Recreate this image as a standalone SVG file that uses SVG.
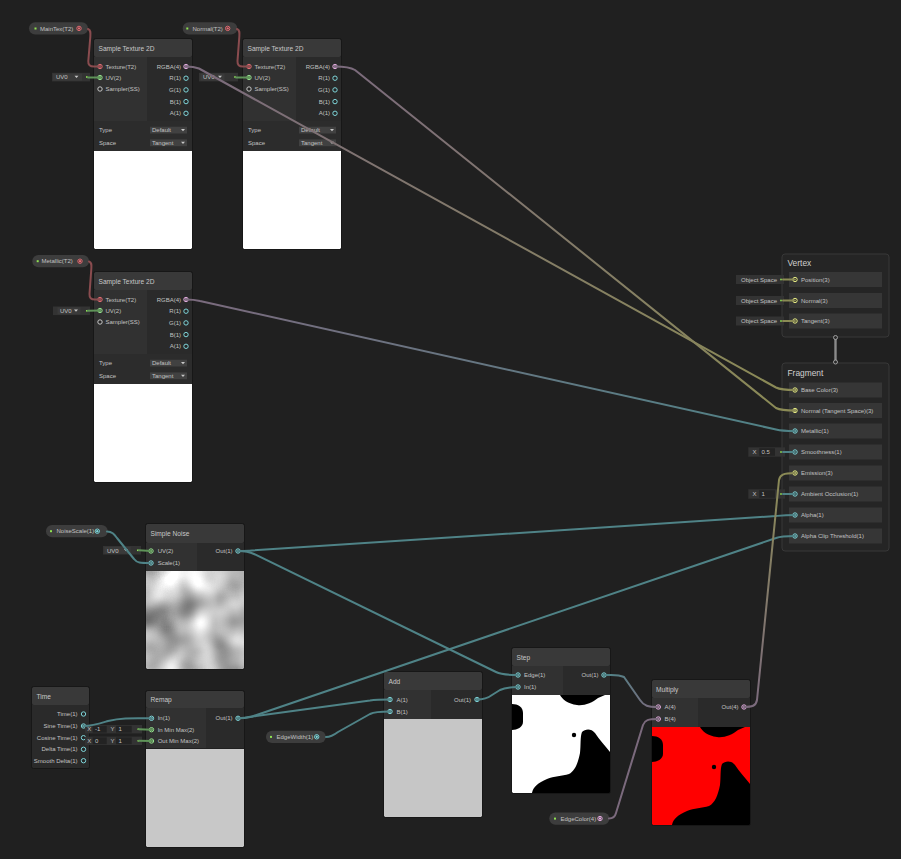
<svg xmlns="http://www.w3.org/2000/svg" xmlns:xlink="http://www.w3.org/1999/xlink" width="901" height="859" viewBox="0 0 901 859">
<style>
  text { font-family: "Liberation Sans", Arial, sans-serif; font-size: 6px; fill: #c2c2c2; }
  .title { font-size: 6.6px; fill: #c8c8c8; }
  .big { font-size: 8.4px; fill: #d0d0d0; }
  .r { text-anchor: end; }
  .hdr { fill: #393939; }
  .in { fill: #313131; }
  .out { fill: #2a2a2a; }
  .set { fill: #2c2c2c; }
  .frame { fill: none; stroke: #171717; stroke-width: 1; }
  .white { fill: #ffffff; }
  .grey { fill: #c8c8c8; }
  .dd { fill: #414141; }
  .ddarrow { fill: #c8c8c8; }
  .pill { fill: #3d3d3d; }
  .fld { fill: #333333; }
  .fldv { fill: #232323; }
  .uvin { fill: #3a3a3a; }
  .gdot { fill: #8fe253; }
  .c-t2 { color: #e26d74; }
  .c-v1 { color: #7fd6da; }
  .c-v2 { color: #96e28e; }
  .c-v3 { color: #e8ee86; }
  .c-v4 { color: #e4aee0; }
  .c-ss { color: #c8c8c8; }
  .edge { fill: none; stroke-width: 2; stroke-linejoin: round; stroke-linecap: round; }
  .e-t2 { stroke: #8a4c4f; }
  .e-v1 { stroke: #4f8387; }
  .e-v2 { stroke: #5f9459; }
  .e-v3 { stroke: #8b8b55; }
  .e-v4 { stroke: #7b6a7d; }
  .ctn { fill: #252525; stroke: #383838; stroke-width: 1; }
  .slot { fill: #363636; }
</style>
<defs>
  <g id="port-on"><circle r="2.2" fill="#262626" stroke="currentColor" stroke-width="1"/><circle r="1.2" fill="currentColor"/></g>
  <g id="port-off"><circle r="2.2" fill="#262626" stroke="currentColor" stroke-width="1"/></g>
  <path id="dd-arrow" d="M-2,-1 L2,-1 L0,1.2 Z"/>
  <!-- thresholded noise pattern used by the Step / Multiply previews -->
  <g id="cut-shape">
    <path d="M48,0 C50,4 56,9 65,10 C72,11 80,8 86,3 L93,0 Z"/>
    <path d="M0,9 C6,9 11,12 11,18 L11,27 C11,32 5,35 0,35 Z"/>
    <circle cx="62" cy="40" r="2.2"/>
    <path d="M70,37 C73,34 79,33 83,38 C87,44 93,51 98,57 L98,98 L20,98 C21,92 26,88 35,84 C42,81 50,81 57,79 C63,76 66,68 68,58 C69,50 68,42 70,37 Z"/>
  </g>
  <filter id="noise" filterUnits="userSpaceOnUse" x="0" y="47" width="98" height="98" color-interpolation-filters="sRGB">
    <feTurbulence type="fractalNoise" baseFrequency="0.028" numOctaves="2" seed="11"/>
    <feGaussianBlur stdDeviation="1.8"/>
    <feColorMatrix type="matrix" values="1.05 0 0 0 0.2  1.05 0 0 0 0.2  1.05 0 0 0 0.2  0 0 0 0 1"/>
  </filter>
  <linearGradient id="g-base" gradientUnits="userSpaceOnUse" x1="186" y1="66" x2="795" y2="390">
    <stop offset="0" stop-color="#7b6a7d"/><stop offset="1" stop-color="#8b8b55"/>
  </linearGradient>
  <linearGradient id="g-normal" gradientUnits="userSpaceOnUse" x1="335" y1="66" x2="795" y2="410">
    <stop offset="0" stop-color="#7b6a7d"/><stop offset="1" stop-color="#8b8b55"/>
  </linearGradient>
  <linearGradient id="g-metal" gradientUnits="userSpaceOnUse" x1="187" y1="299" x2="795" y2="431">
    <stop offset="0" stop-color="#7b6a7d"/><stop offset="1" stop-color="#4f8387"/>
  </linearGradient>
  <linearGradient id="g-mula" gradientUnits="userSpaceOnUse" x1="604" y1="675" x2="658" y2="707">
    <stop offset="0" stop-color="#4f8387"/><stop offset="1" stop-color="#7b6a7d"/>
  </linearGradient>
  <linearGradient id="g-emis" gradientUnits="userSpaceOnUse" x1="744" y1="707" x2="795" y2="473">
    <stop offset="0" stop-color="#7b6a7d"/><stop offset="1" stop-color="#8b8b55"/>
  </linearGradient>
</defs>

<rect width="901" height="859" fill="#202020"/>

<!-- property nodes -->
<g id="prop-maintex">
  <rect class="pill" x="29" y="22.3" width="59" height="12.3" rx="6.1"/>
  <rect class="gdot" x="34.5" y="27.5" width="2" height="2"/>
  <text x="40" y="30.6">MainTex(T2)</text>
  <use href="#port-on" x="79" y="28.4" class="c-t2"/>
</g>
<g id="prop-normal">
  <rect class="pill" x="182.7" y="22.3" width="54.6" height="12.3" rx="6.1"/>
  <rect class="gdot" x="186.3" y="27.5" width="2" height="2"/>
  <text x="192.5" y="30.6">Normal(T2)</text>
  <use href="#port-on" x="227.7" y="28.4" class="c-t2"/>
</g>
<g id="prop-metallic">
  <rect class="pill" x="32.3" y="255" width="56.7" height="12.3" rx="6.1"/>
  <rect class="gdot" x="36.7" y="260.2" width="2" height="2"/>
  <text x="41.5" y="263.3">Metallic(T2)</text>
  <use href="#port-on" x="80" y="261.2" class="c-t2"/>
</g>
<g id="prop-noisescale">
  <rect class="pill" x="46" y="525" width="61.7" height="12.3" rx="6.1"/>
  <rect class="gdot" x="50" y="530.2" width="2" height="2"/>
  <text x="56.5" y="533.3">NoiseScale(1)</text>
  <use href="#port-on" x="97.3" y="531.2" class="c-v1"/>
</g>
<g id="prop-edgewidth">
  <rect class="pill" x="266" y="730.7" width="59.7" height="12.3" rx="6.1"/>
  <rect class="gdot" x="270" y="735.9" width="2" height="2"/>
  <text x="276.5" y="739">EdgeWidth(1)</text>
  <use href="#port-on" x="316.7" y="736.8" class="c-v1"/>
</g>
<g id="prop-edgecolor">
  <rect class="pill" x="549.3" y="812.4" width="60" height="12.3" rx="6.1"/>
  <rect class="gdot" x="554" y="817.6" width="2" height="2"/>
  <text x="560.5" y="820.7">EdgeColor(4)</text>
  <use href="#port-on" x="600" y="818.5" class="c-v4"/>
</g>

<!-- inline default-value fields -->
<g id="uv-fields">
  <rect class="fld" x="52" y="72.8" width="38" height="8.6"/>
  <rect class="uvin" x="53" y="73.6" width="29" height="7"/>
  <text x="56" y="79.3">UV0</text><use href="#dd-arrow" x="76.5" y="76.8" class="ddarrow"/>
  <rect class="gdot" x="86" y="76.2" width="1.6" height="1.6"/>

  <rect class="fld" x="199" y="72.8" width="39" height="8.6"/>
  <rect class="uvin" x="200.5" y="73.6" width="24" height="7"/>
  <text x="203" y="79.3">UV0</text><use href="#dd-arrow" x="220" y="76.8" class="ddarrow"/>
  <rect class="gdot" x="234.2" y="76.2" width="1.6" height="1.6"/>

  <rect class="fld" x="53" y="306.5" width="37" height="8.6"/>
  <rect class="uvin" x="57.5" y="307.3" width="23" height="7"/>
  <text x="60" y="313">UV0</text><use href="#dd-arrow" x="76" y="310.5" class="ddarrow"/>
  <rect class="gdot" x="86" y="310" width="1.6" height="1.6"/>

  <rect class="fld" x="103" y="546" width="38" height="8.6"/>
  <rect class="uvin" x="104.3" y="546.8" width="26.4" height="7"/>
  <text x="107" y="552.5">UV0</text><use href="#dd-arrow" x="126" y="550" class="ddarrow"/>
  <rect class="gdot" x="137" y="549.5" width="1.6" height="1.6"/>
</g>

<!-- Sample Texture 2D (MainTex) -->
<g id="sample-tex-main" transform="translate(94,39)">
  <rect class="hdr" width="98" height="18" rx="2"/>
  <text class="title" x="4.5" y="11.6">Sample Texture 2D</text>
  <rect class="in" y="18" width="53" height="64"/>
  <rect class="out" x="53" y="18" width="45" height="64"/>
  <rect class="set" y="82" width="98" height="30"/>
  <rect class="white" y="112" width="98" height="98"/>
  <rect class="frame" x="-0.5" y="-0.5" width="99" height="211" rx="2"/>
  <use href="#port-on" x="6" y="27.5" class="c-t2"/><text x="11.5" y="29.6">Texture(T2)</text>
  <use href="#port-on" x="6" y="38.5" class="c-v2"/><text x="11.5" y="40.6">UV(2)</text>
  <use href="#port-off" x="6" y="50" class="c-ss"/><text x="11.5" y="52.1">Sampler(SS)</text>
  <use href="#port-on" x="92" y="27.5" class="c-v4"/><text class="r" x="87" y="29.6">RGBA(4)</text>
  <use href="#port-off" x="92" y="39.2" class="c-v1"/><text class="r" x="87" y="41.3">R(1)</text>
  <use href="#port-off" x="92" y="50.9" class="c-v1"/><text class="r" x="87" y="53">G(1)</text>
  <use href="#port-off" x="92" y="62.6" class="c-v1"/><text class="r" x="87" y="64.7">B(1)</text>
  <use href="#port-off" x="92" y="74.3" class="c-v1"/><text class="r" x="87" y="76.4">A(1)</text>
  <text x="5" y="93.1">Type</text>
  <rect class="dd" x="56" y="87.7" width="37" height="6.8"/><text x="58" y="93.1">Default</text><use href="#dd-arrow" x="89" y="91" class="ddarrow"/>
  <text x="5" y="105.9">Space</text>
  <rect class="dd" x="56" y="100.4" width="37" height="6.8"/><text x="58" y="105.9">Tangent</text><use href="#dd-arrow" x="89" y="103.7" class="ddarrow"/>
</g>

<!-- Sample Texture 2D (Normal) -->
<g id="sample-tex-normal" transform="translate(243,39)">
  <rect class="hdr" width="98" height="18" rx="2"/>
  <text class="title" x="4.5" y="11.6">Sample Texture 2D</text>
  <rect class="in" y="18" width="53" height="64"/>
  <rect class="out" x="53" y="18" width="45" height="64"/>
  <rect class="set" y="82" width="98" height="30"/>
  <rect class="white" y="112" width="98" height="98"/>
  <rect class="frame" x="-0.5" y="-0.5" width="99" height="211" rx="2"/>
  <use href="#port-on" x="6" y="27.5" class="c-t2"/><text x="11.5" y="29.6">Texture(T2)</text>
  <use href="#port-on" x="6" y="38.5" class="c-v2"/><text x="11.5" y="40.6">UV(2)</text>
  <use href="#port-off" x="6" y="50" class="c-ss"/><text x="11.5" y="52.1">Sampler(SS)</text>
  <use href="#port-on" x="92" y="27.5" class="c-v4"/><text class="r" x="87" y="29.6">RGBA(4)</text>
  <use href="#port-off" x="92" y="39.2" class="c-v1"/><text class="r" x="87" y="41.3">R(1)</text>
  <use href="#port-off" x="92" y="50.9" class="c-v1"/><text class="r" x="87" y="53">G(1)</text>
  <use href="#port-off" x="92" y="62.6" class="c-v1"/><text class="r" x="87" y="64.7">B(1)</text>
  <use href="#port-off" x="92" y="74.3" class="c-v1"/><text class="r" x="87" y="76.4">A(1)</text>
  <text x="5" y="93.1">Type</text>
  <rect class="dd" x="56" y="87.7" width="37" height="6.8"/><text x="58" y="93.1">Default</text><use href="#dd-arrow" x="89" y="91" class="ddarrow"/>
  <text x="5" y="105.9">Space</text>
  <rect class="dd" x="56" y="100.4" width="37" height="6.8"/><text x="58" y="105.9">Tangent</text><use href="#dd-arrow" x="89" y="103.7" class="ddarrow"/>
</g>

<!-- Sample Texture 2D (Metallic) -->
<g id="sample-tex-metallic" transform="translate(94,272)">
  <rect class="hdr" width="98" height="18" rx="2"/>
  <text class="title" x="4.5" y="11.6">Sample Texture 2D</text>
  <rect class="in" y="18" width="53" height="64"/>
  <rect class="out" x="53" y="18" width="45" height="64"/>
  <rect class="set" y="82" width="98" height="30"/>
  <rect class="white" y="112" width="98" height="98"/>
  <rect class="frame" x="-0.5" y="-0.5" width="99" height="211" rx="2"/>
  <use href="#port-on" x="6" y="27.5" class="c-t2"/><text x="11.5" y="29.6">Texture(T2)</text>
  <use href="#port-on" x="6" y="38.5" class="c-v2"/><text x="11.5" y="40.6">UV(2)</text>
  <use href="#port-off" x="6" y="50" class="c-ss"/><text x="11.5" y="52.1">Sampler(SS)</text>
  <use href="#port-on" x="92" y="27.5" class="c-v4"/><text class="r" x="87" y="29.6">RGBA(4)</text>
  <use href="#port-off" x="92" y="39.2" class="c-v1"/><text class="r" x="87" y="41.3">R(1)</text>
  <use href="#port-off" x="92" y="50.9" class="c-v1"/><text class="r" x="87" y="53">G(1)</text>
  <use href="#port-off" x="92" y="62.6" class="c-v1"/><text class="r" x="87" y="64.7">B(1)</text>
  <use href="#port-off" x="92" y="74.3" class="c-v1"/><text class="r" x="87" y="76.4">A(1)</text>
  <text x="5" y="93.1">Type</text>
  <rect class="dd" x="56" y="87.7" width="37" height="6.8"/><text x="58" y="93.1">Default</text><use href="#dd-arrow" x="89" y="91" class="ddarrow"/>
  <text x="5" y="105.9">Space</text>
  <rect class="dd" x="56" y="100.4" width="37" height="6.8"/><text x="58" y="105.9">Tangent</text><use href="#dd-arrow" x="89" y="103.7" class="ddarrow"/>
</g>

<!-- Simple Noise -->
<g id="simple-noise" transform="translate(146,524)">
  <rect class="hdr" width="98" height="19" rx="2"/>
  <text class="title" x="4.5" y="12">Simple Noise</text>
  <rect class="in" y="19" width="51" height="28"/>
  <rect class="out" x="51" y="19" width="47" height="28"/>
  <rect x="0" y="47" width="98" height="98" fill="#fff" filter="url(#noise)"/>
  <rect class="frame" x="-0.5" y="-0.5" width="99" height="146" rx="2"/>
  <use href="#port-on" x="5" y="27" class="c-v2"/><text x="11.7" y="29.1">UV(2)</text>
  <use href="#port-on" x="5" y="39" class="c-v1"/><text x="11.7" y="41.1">Scale(1)</text>
  <use href="#port-on" x="92" y="27" class="c-v1"/><text class="r" x="86.5" y="29.1">Out(1)</text>
</g>

<!-- Time -->
<g id="time" transform="translate(32,687)">
  <rect class="hdr" width="57" height="18" rx="2"/>
  <text class="title" x="4.5" y="11.6">Time</text>
  <rect class="out" y="18" width="57" height="63"/>
  <rect class="frame" x="-0.5" y="-0.5" width="58" height="82" rx="2"/>
  <use href="#port-off" x="51.5" y="27" class="c-v1"/><text class="r" x="45.5" y="29.1">Time(1)</text>
  <use href="#port-on" x="51.5" y="39" class="c-v1"/><text class="r" x="45.5" y="41.1">Sine Time(1)</text>
  <use href="#port-off" x="51.5" y="50.7" class="c-v1"/><text class="r" x="45.5" y="52.8">Cosine Time(1)</text>
  <use href="#port-off" x="51.5" y="62.3" class="c-v1"/><text class="r" x="45.5" y="64.4">Delta Time(1)</text>
  <use href="#port-off" x="51.5" y="73.7" class="c-v1"/><text class="r" x="45.5" y="75.8">Smooth Delta(1)</text>
</g>

<!-- Remap value fields -->
<g id="remap-fields">
  <rect class="fld" x="85" y="725" width="57" height="8.4"/>
  <text x="87.2" y="731.4">X</text>
  <rect class="fldv" x="92.7" y="725.8" width="14" height="6.8"/><text x="95" y="731.4">-1</text>
  <text x="110.5" y="731.4">Y</text>
  <rect class="fldv" x="116" y="725.8" width="15.7" height="6.8"/><text x="118.5" y="731.4">1</text>
  <rect class="gdot" x="137.5" y="728.4" width="1.6" height="1.6"/>

  <rect class="fld" x="85" y="736.6" width="57" height="8.4"/>
  <text x="87.2" y="743">X</text>
  <rect class="fldv" x="92.7" y="737.4" width="14" height="6.8"/><text x="95" y="743">0</text>
  <text x="110.5" y="743">Y</text>
  <rect class="fldv" x="116" y="737.4" width="15.7" height="6.8"/><text x="118.5" y="743">1</text>
  <rect class="gdot" x="137.5" y="740" width="1.6" height="1.6"/>
</g>

<!-- Remap -->
<g id="remap" transform="translate(146,691)">
  <rect class="hdr" width="98" height="17" rx="2"/>
  <text class="title" x="4.5" y="11">Remap</text>
  <rect class="in" y="17" width="60" height="40"/>
  <rect class="out" x="60" y="17" width="38" height="40"/>
  <rect class="grey" y="58" width="98" height="98"/>
  <rect class="frame" x="-0.5" y="-0.5" width="99" height="157" rx="2"/>
  <use href="#port-on" x="5.5" y="27.3" class="c-v1"/><text x="11.7" y="29.4">In(1)</text>
  <use href="#port-on" x="5.5" y="38.7" class="c-v2"/><text x="11.7" y="40.8">In Min Max(2)</text>
  <use href="#port-on" x="5.5" y="50" class="c-v2"/><text x="11.7" y="52.1">Out Min Max(2)</text>
  <use href="#port-on" x="92" y="27.3" class="c-v1"/><text class="r" x="86.5" y="29.4">Out(1)</text>
</g>

<!-- Add -->
<g id="add" transform="translate(384,672)">
  <rect class="hdr" width="98" height="18" rx="2"/>
  <text class="title" x="4.5" y="11.6">Add</text>
  <rect class="in" y="18" width="47" height="29"/>
  <rect class="out" x="47" y="18" width="51" height="29"/>
  <rect fill="#c6c6c6" y="47" width="98" height="98"/>
  <rect class="frame" x="-0.5" y="-0.5" width="99" height="146" rx="2"/>
  <use href="#port-on" x="6" y="27.5" class="c-v1"/><text x="12.5" y="29.6">A(1)</text>
  <use href="#port-on" x="6" y="39.5" class="c-v1"/><text x="12.5" y="41.6">B(1)</text>
  <use href="#port-on" x="93" y="27.5" class="c-v1"/><text class="r" x="87" y="29.6">Out(1)</text>
</g>

<!-- Step -->
<g id="step" transform="translate(512,648)">
  <rect class="hdr" width="98" height="18" rx="2"/>
  <text class="title" x="4.5" y="11.6">Step</text>
  <rect class="in" y="18" width="51" height="29"/>
  <rect class="out" x="51" y="18" width="47" height="29"/>
  <rect class="white" y="47" width="98" height="98"/>
  <use href="#cut-shape" y="47" fill="#000"/>
  <rect class="frame" x="-0.5" y="-0.5" width="99" height="146" rx="2"/>
  <use href="#port-on" x="6" y="27" class="c-v1"/><text x="12" y="29.1">Edge(1)</text>
  <use href="#port-on" x="6" y="39" class="c-v1"/><text x="12" y="41.1">In(1)</text>
  <use href="#port-on" x="92" y="27" class="c-v1"/><text class="r" x="86.5" y="29.1">Out(1)</text>
</g>

<!-- Multiply -->
<g id="multiply" transform="translate(652,680)">
  <rect class="hdr" width="98" height="18" rx="2"/>
  <text class="title" x="4" y="11.6">Multiply</text>
  <rect class="in" y="18" width="46" height="29"/>
  <rect class="out" x="46" y="18" width="52" height="29"/>
  <rect fill="#ff0000" y="47" width="98" height="98"/>
  <use href="#cut-shape" y="47" fill="#000"/>
  <rect class="frame" x="-0.5" y="-0.5" width="99" height="146" rx="2"/>
  <use href="#port-on" x="6.3" y="27" class="c-v4"/><text x="12.5" y="29.1">A(4)</text>
  <use href="#port-on" x="6.3" y="39" class="c-v4"/><text x="12.5" y="41.1">B(4)</text>
  <use href="#port-on" x="92" y="27" class="c-v4"/><text class="r" x="86.5" y="29.1">Out(4)</text>
</g>

<!-- Master stack: vertex / fragment -->
<g id="master-vertex">
  <rect class="ctn" x="782" y="254" width="107" height="83" rx="3"/>
  <text class="big" x="787.5" y="266">Vertex</text>
  <rect class="slot" x="789" y="272" width="93" height="15"/>
  <rect class="slot" x="789" y="293" width="93" height="15"/>
  <rect class="slot" x="789" y="313.5" width="93" height="15"/>
  <use href="#port-off" x="795" y="279.5" class="c-v3"/><text x="801" y="281.6">Position(3)</text>
  <use href="#port-off" x="795" y="300.5" class="c-v3"/><text x="801" y="302.6">Normal(3)</text>
  <use href="#port-off" x="795" y="321" class="c-v3"/><text x="801" y="323.1">Tangent(3)</text>
</g>
<g id="master-fragment">
  <rect class="ctn" x="782" y="363" width="107" height="188" rx="3"/>
  <text class="big" x="787.5" y="375.5">Fragment</text>
  <rect class="slot" x="789" y="382.5" width="93" height="15"/>
  <rect class="slot" x="789" y="403" width="93" height="15"/>
  <rect class="slot" x="789" y="423.5" width="93" height="15"/>
  <rect class="slot" x="789" y="444.5" width="93" height="15"/>
  <rect class="slot" x="789" y="465.5" width="93" height="15"/>
  <rect class="slot" x="789" y="486.5" width="93" height="15"/>
  <rect class="slot" x="789" y="507.5" width="93" height="15"/>
  <rect class="slot" x="789" y="528.5" width="93" height="15"/>
  <use href="#port-on" x="795" y="390" class="c-v3"/><text x="801" y="392.1">Base Color(3)</text>
  <use href="#port-on" x="795" y="410.5" class="c-v3"/><text x="801" y="412.6">Normal (Tangent Space)(3)</text>
  <use href="#port-on" x="795" y="431" class="c-v1"/><text x="801" y="433.1">Metallic(1)</text>
  <use href="#port-off" x="795" y="452" class="c-v1"/><text x="801" y="454.1">Smoothness(1)</text>
  <use href="#port-on" x="795" y="473" class="c-v3"/><text x="801" y="475.1">Emission(3)</text>
  <use href="#port-off" x="795" y="494" class="c-v1"/><text x="801" y="496.1">Ambient Occlusion(1)</text>
  <use href="#port-on" x="795" y="515" class="c-v1"/><text x="801" y="517.1">Alpha(1)</text>
  <use href="#port-on" x="795" y="536" class="c-v1"/><text x="801" y="538.1">Alpha Clip Threshold(1)</text>
</g>
<g id="master-fields">
  <rect class="fld" x="736" y="275" width="48" height="9"/><text x="741" y="281.6">Object Space</text>
  <rect class="gdot" x="780.2" y="278.7" width="1.6" height="1.6"/>
  <rect class="fld" x="736" y="296" width="48" height="9"/><text x="741" y="302.6">Object Space</text>
  <rect class="gdot" x="780.2" y="299.7" width="1.6" height="1.6"/>
  <rect class="fld" x="736" y="316.5" width="48" height="9"/><text x="741" y="323.1">Object Space</text>
  <rect class="gdot" x="780.2" y="320.2" width="1.6" height="1.6"/>
  <rect class="fld" x="748.3" y="447.3" width="36.7" height="9.4"/><text x="752.5" y="454.1">X</text>
  <rect class="fldv" x="759.3" y="448.2" width="15.7" height="7.6"/><text x="761.5" y="454.1">0.5</text>
  <rect class="gdot" x="780.2" y="451.2" width="1.6" height="1.6"/>
  <rect class="fld" x="748.3" y="489.3" width="36.7" height="9.4"/><text x="752.5" y="496.1">X</text>
  <rect class="fldv" x="759.3" y="490.2" width="15.7" height="7.6"/><text x="761.5" y="496.1">1</text>
  <rect class="gdot" x="780.2" y="493.2" width="1.6" height="1.6"/>
</g>

<!-- connectors -->
<g id="edges">
  <path class="edge e-t2" d="M88,29 C91,30 90.5,33 90.3,37 L88.3,61 C88,65 90,66.5 94,66.5 L100,66.5"/>
  <path class="edge e-t2" d="M237,29 C240,30 239.5,33 239.3,37 L237.5,61 C237.3,65 239,66.5 243,66.5 L249,66.5"/>
  <path class="edge e-t2" d="M89,261.5 C92,262.5 91.5,265 91.3,269 L89.5,294 C89.3,298 91,299.5 95,299.5 L100,299.5"/>
  <path class="edge e-v2" d="M88,77.5 L100,77.5"/>
  <path class="edge e-v2" d="M236,77.5 L249,77.5"/>
  <path class="edge e-v2" d="M88,310.8 L100,310.5"/>
  <path class="edge e-v2" d="M139,550.3 L151,551"/>
  <path class="edge e-v2" d="M139,729.2 L151.5,729.7"/>
  <path class="edge e-v2" d="M139,740.8 L151.5,741"/>

  <path class="edge" stroke="url(#g-base)" d="M186,66.5 C192,66.5 195,67 199,68.5 L776,387.5 C780,389.5 784,390 795,390"/>
  <path class="edge" stroke="url(#g-normal)" d="M335,66.5 C345,66.5 350,67 355,70 L776,408 C780,410 785,410.5 795,410.5"/>
  <path class="edge" stroke="url(#g-metal)" d="M186,299.5 C193,299.5 196,300 200,301 L776,429.5 C780,430.5 785,431 795,431"/>

  <path class="edge e-v1" d="M107,531.5 C112,531.5 114,534 117,538 L134,559 C137,563 140,563 151,563"/>
  <path class="edge e-v1" d="M238,551 C245,551 248,551 252,550.5 L776,516 C781,515.5 785,515 795,515"/>
  <path class="edge e-v1" d="M238,551 C246,551 250,552 254,554 L496,672 C500,674 505,675 518,675"/>
  <path class="edge e-v1" d="M84,726 C92,726 98,724 108,721 C120,718 128,718 151.5,718.3"/>
  <path class="edge e-v1" d="M238,718.3 C245,718.3 248,717.5 252,716.5 L776,538 C780,536.5 785,536 795,536"/>
  <path class="edge e-v1" d="M238,718.3 C246,718.3 250,717 256,716 L370,700.5 C375,699.7 380,699.5 390,699.5"/>
  <path class="edge e-v1" d="M326,737 C331,737 334,735 338,732 L370,714 C374,712 378,711.5 390,711.5"/>
  <path class="edge e-v1" d="M477,699.5 C484,699.5 488,698 492,695 L500,690 C504,688 508,687 518,687"/>
  <path class="edge" stroke="url(#g-mula)" d="M604,675 C612,675 618,674 624,677 L640,700 C644,706 648,707 658,707"/>
  <path class="edge e-v4" d="M609,818.5 C613,818.5 615,817 616,813 L643,725 C645,720 648,719 658,719"/>
  <path class="edge" stroke="url(#g-emis)" d="M744,707 C752,707 756,706 757,700 L779,480 C780,475 783,473 795,473"/>

  <path class="edge e-v3" d="M783,279.5 L795,279.5"/>
  <path class="edge e-v3" d="M783,300.5 L795,300.5"/>
  <path class="edge e-v3" d="M783,321 L795,321"/>
  <path class="edge e-v1" d="M783,452 L795,452"/>
  <path class="edge e-v1" d="M783,494 L795,494"/>

  <g id="stack-link">
    <path d="M835.5,338 L835.5,362" stroke="#8a8a8a" stroke-width="2.4" fill="none"/>
    <circle cx="835.5" cy="337.5" r="2" fill="#2a2a2a" stroke="#a8a8a8" stroke-width="0.9"/>
    <circle cx="835.5" cy="362" r="2" fill="#2a2a2a" stroke="#a8a8a8" stroke-width="0.9"/>
  </g>
</g>
</svg>
